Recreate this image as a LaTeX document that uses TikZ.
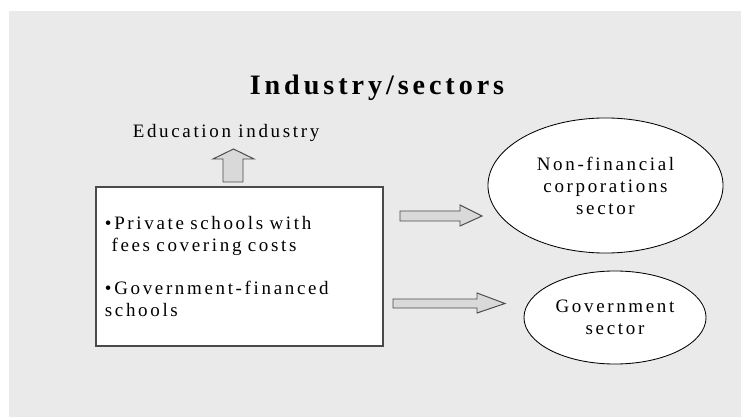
\documentclass[tikz,border=0pt]{standalone}
\usepackage{fontspec}
\setmainfont[LetterSpace=14]{Liberation Serif}
\usetikzlibrary{shapes.geometric}
\definecolor{panelgray}{HTML}{EAEAEA}
\definecolor{arrowgray}{HTML}{D9D9D9}
\definecolor{edgegray}{HTML}{4A4A4A}

\begin{document}
\begin{tikzpicture}[x=0.025cm,y=-0.025cm,thick,
    sector node/.style={ellipse,draw=black,fill=white,line width=0.6pt,align=center,inner sep=0pt,font=\fontsize{13.5}{15.6}\selectfont},
    unit box/.style={rectangle,draw=edgegray,fill=white,line width=0.9pt,align=left,inner xsep=0.225cm,text width=6.725cm,minimum height=3.975cm,font=\fontsize{13.5}{15.6}\selectfont},
    block arrow/.style={draw=edgegray,fill=arrowgray,line width=0.7pt,line join=miter}]
    \useasboundingbox (0,0) rectangle (742,419);
    \fill[panelgray] (9,11) rectangle (741,417);

    \node (title) at (377,88) {\fontsize{20}{23}\selectfont\bfseries Industry/sectors};
    \node (industry) at (226,133) {\fontsize{13.5}{15.6}\selectfont Education industry};

    \node[unit box] (units) at (239.5,266.5) {•Private schools with\\
        \hphantom{•}fees covering costs\\[15.6pt]
        •Government-financed\\
        schools};

    \node[sector node,minimum width=5.875cm,minimum height=3.375cm] (corp) at (605.5,185.5) {Non-financial\\corporations\\sector};
    \node[sector node,minimum width=4.55cm,minimum height=2.325cm] (gov) at (615,317.5) {Government\\sector};

    % block arrows
    \draw[block arrow] (223,182) -- (223,159) -- (213,159) -- (233.5,149) -- (254,159) -- (243,159) -- (243,182) -- cycle;
    \draw[block arrow] (400,211) -- (460,211) -- (460,205) -- (482,216) -- (460,226) -- (460,221) -- (400,221) -- cycle;
    \draw[block arrow] (393,299) -- (477,299) -- (477,293) -- (505,303.5) -- (477,313) -- (477,308) -- (393,308) -- cycle;
\end{tikzpicture}
\end{document}
